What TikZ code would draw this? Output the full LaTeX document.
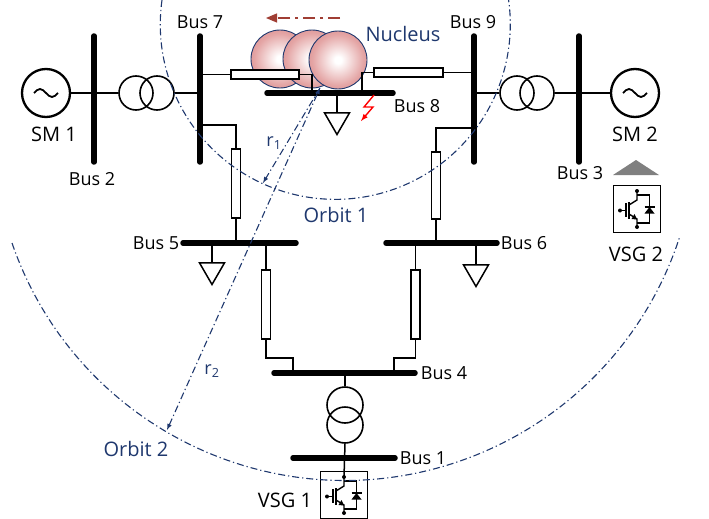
\documentclass[tikz,border=0pt]{standalone}
\usepackage{fontspec}
\setmainfont{Open Sans}
\usetikzlibrary{arrows,shapes,positioning}
\definecolor{orbitblue}{RGB}{31,56,110}
\definecolor{nucedge}{RGB}{204,108,108}
\definecolor{nucmid}{RGB}{228,165,165}
\definecolor{movebrown}{RGB}{160,62,52}
\pgfdeclareradialshading{nucshade}{\pgfpoint{0bp}{0bp}}{color(0bp)=(white); color(3bp)=(white); color(22bp)=(nucmid); color(44bp)=(nucedge); color(50bp)=(nucedge)}
\tikzset{
    wire/.style={line width=1.5pt, black},
    bus/.style={line width=5.5pt, line cap=round, black},
    res h/.style={rectangle, draw, line width=1.5pt, fill=white, minimum width=68pt, minimum height=9pt, inner sep=0pt},
    res v/.style={rectangle, draw, line width=1.5pt, fill=white, minimum width=9pt, minimum height=69pt, inner sep=0pt},
    tr coil/.style={circle, draw, line width=1.6pt, minimum size=34pt, inner sep=0pt},
    gen/.style={circle, draw, line width=2.3pt, minimum size=48pt, inner sep=0pt},
    load sym/.style={regular polygon, regular polygon sides=3, shape border rotate=180, draw, line width=1.5pt, minimum size=29pt, inner sep=0pt, anchor=north},
    nucleus/.style={circle, draw=orbitblue, line width=0.9pt, shading=nucshade, minimum size=58pt, inner sep=0pt},
    vsg box/.style={rectangle, draw, line width=1.5pt, minimum size=47pt, inner sep=0pt},
    orbit/.style={orbitblue, line width=1.1pt, dash pattern=on 7pt off 3pt on 1.2pt off 3pt},
    move arrow/.style={movebrown, line width=1.6pt, dash pattern=on 12pt off 5pt on 3pt off 5pt},
    fault/.style={red, line width=1.4pt},
    bus label/.style={font=\fontsize{18}{20}\selectfont, inner sep=0pt},
    tag label/.style={font=\fontsize{20}{22}\selectfont, inner sep=0pt},
    orbit label/.style={tag label, text=orbitblue}
}
% switch symbol inside a VSG box
\newcommand{\igbtsym}[1]{%
  \begin{scope}[shift={(#1.center)}, line width=1.4pt]
    \draw (-17,1.5) -- (-11,1.5);
    \draw (-11,-6) -- (-11,8);
    \draw[line width=1.8pt] (-8,-7) -- (-8,10);
    \draw (0,-18) -- (0,-9) -- (-8,-4);
    \draw (-8,5) -- (0,10) -- (0,18);
    \fill (0,10.5) -- (-5.5,10) -- (-2.5,5) -- cycle;
    \draw (0,-14) -| (12.5,14) -- (0,14);
    \fill (7.5,4.5) -- (17.5,4.5) -- (12.5,-2) -- cycle;
    \draw (7.5,-2) -- (17.5,-2);
    \fill (0,-18) circle (2) (0,18) circle (2) (-17,1.5) circle (2);
  \end{scope}}

\begin{document}
\begin{tikzpicture}[x=1pt,y=-1pt,>=latex]
\useasboundingbox (0,0) rectangle (709,519);
% nucleus
\node[nucleus] (nuc1) at (280,59) {};
\node[nucleus] (nuc2) at (312,59) {};
\node[nucleus] (nuc3) at (338,60) {};
\node[orbit label] (nuclbl) at (403,34) {Nucleus};
\coordinate (mv1) at (340,18);
\coordinate (mv2) at (266,18);
\draw[move arrow,-triangle 45] (mv1) -- (mv2);

% buses
\coordinate (b2t) at (94,36);   \coordinate (b2b) at (94,162);
\coordinate (b7t) at (200,36);  \coordinate (b7b) at (200,162);
\coordinate (b9t) at (474,36);  \coordinate (b9b) at (474,162);
\coordinate (b3t) at (579,36);  \coordinate (b3b) at (579,162);
\coordinate (b8l) at (267,93);  \coordinate (b8r) at (393,93);
\coordinate (b5l) at (183,243); \coordinate (b5r) at (296,243);
\coordinate (b6l) at (386,243); \coordinate (b6r) at (497,243);
\coordinate (b4l) at (274,373); \coordinate (b4r) at (415,373);
\coordinate (b1l) at (293,458); \coordinate (b1r) at (395,458);
\foreach \a/\b in {b2t/b2b,b7t/b7b,b9t/b9b,b3t/b3b,b8l/b8r,b5l/b5r,b6l/b6r,b4l/b4r,b1l/b1r}
    \draw[bus] (\a) -- (\b);

% machines and transformers
\node[gen] (sm1) at (46,93) {};
\node[gen] (sm2) at (635,93) {};
\foreach \g in {sm1,sm2}
    \draw[line width=1.8pt] ([xshift=-12pt]\g.center) sin ++(6,-4) cos ++(6,4) sin ++(6,4) cos ++(6,-4);
\node[tr coil] (t1a) at (136,93) {};
\node[tr coil] (t1b) at (157,93) {};
\node[tr coil] (t2a) at (517,93) {};
\node[tr coil] (t2b) at (537,93) {};
\node[tr coil, minimum size=36pt] (t3a) at (345,405) {};
\node[tr coil, minimum size=36pt] (t3b) at (345,425) {};
\draw[wire] (sm1.east) -- (t1a.west);
\draw[wire] (t1b.east) -- (t1b.east -| b7t);
\draw[wire] (t2a.west) -- (t2a.west -| b9t);
\draw[wire] (t2b.east) -- (sm2.west);
\draw[wire] (t3a.north) -- (t3a.north |- b4l);

% lines
\node[res h] (r78) at (265,74.5) {};
\node[res h, minimum width=69pt] (r89) at (408.5,72.5) {};
\node[res v] (r75) at (236,183.5) {};
\node[res v, minimum height=67pt] (r96) at (436,185.5) {};
\node[res v] (r54) at (266,304.5) {};
\node[res v] (r64) at (415.5,304.5) {};
\coordinate (b8a) at (312,93);
\coordinate (b8b) at (362,93);
\coordinate (b7r) at (200,125);
\coordinate (b9r) at (474,128);
\coordinate (k54) at (293,358);
\coordinate (k64) at (394,358);
\draw[wire] (r78.west) -- (r78.west -| b7t);
\draw[wire] (r78.east) -| (b8a);
\draw[wire] (r89.west) -| (b8b);
\draw[wire] (r89.east) -- (r89.east -| b9t);
\draw[wire] (r75.north) |- (b7r);
\draw[wire] (r75.south) -- (r75.south |- b5l);
\draw[wire] (r96.north) |- (b9r);
\draw[wire] (r96.south) -- (r96.south |- b6l);
\draw[wire] (r54.north) -- (r54.north |- b5l);
\draw[wire] (r54.south) |- (k54) -- (k54 |- b4l);
\draw[wire] (r64.north) -- (r64.north |- b6l);
\draw[wire] (r64.south) |- (k64) -- (k64 |- b4l);

% loads
\node[load sym] (ld8) at (337,112) {};
\node[load sym] (ld5) at (212,262) {};
\node[load sym] (ld6) at (476,264) {};
\draw[wire] (ld8.north) -- (ld8.north |- b8l);
\draw[wire] (ld5.north) -- (ld5.north |- b5l);
\draw[wire] (ld6.north) -- (ld6.north |- b6l);

% fault
\coordinate (flt) at (374,95);
\draw[fault,->] (flt) -- ++(-10,12) -- ++(9,0) -- ++(-12,14);

% VSGs
\node[vsg box] (vsg1) at (344,495) {};
\node[vsg box] (vsg2) at (637,209) {};
\igbtsym{vsg1}
\igbtsym{vsg2}
\coordinate (vsg1in) at (344,477);
\draw[wire] (t3b.south) -- (vsg1in);
\fill[gray] (613,175) -- (636,160) -- (659,175) -- cycle;

% labels
\node[bus label] (lb7) at (200,22) {Bus 7};
\node[bus label] (lb9) at (473,22) {Bus 9};
\node[bus label] (lb2) at (92,179) {Bus 2};
\node[bus label] (lb3) at (580,173) {Bus 3};
\node[bus label] (lb8) at (417,106) {Bus 8};
\node[bus label] (lb5) at (156,243) {Bus 5};
\node[bus label] (lb6) at (524,243) {Bus 6};
\node[bus label] (lb4) at (444,373) {Bus 4};
\node[bus label] (lb1) at (423,458) {Bus 1};
\node[tag label] (lsm1) at (54,134) {SM 1};
\node[tag label] (lsm2) at (635,134) {SM 2};
\node[tag label] (lvsg1) at (285,500) {VSG 1};
\node[tag label] (lvsg2) at (636,254) {VSG 2};

% orbits
\coordinate (orb1) at (162,0);
\coordinate (orb2) at (12,243);
\draw[orbit] (orb1) arc[start angle=188, end angle=-8, radius=175];
\draw[orbit] (orb2) arc[start angle=161, end angle=18, radius=352];
\coordinate (rc) at (320,88);
\coordinate (r1e) at (263,183);
\coordinate (r2e) at (167,430);
\draw[orbit,->] (rc) -- (r1e);
\draw[orbit,<->] (r2e) -- (rc);
\node[orbit label, font=\fontsize{18}{20}\selectfont] (lr1) at (274,143) {r\textsubscript{1}};
\node[orbit label, font=\fontsize{18}{20}\selectfont] (lr2) at (212,371) {r\textsubscript{2}};
\node[orbit label] (lo1) at (336,215) {Orbit 1};
\node[orbit label] (lo2) at (136,449) {Orbit 2};
\end{tikzpicture}
\end{document}
